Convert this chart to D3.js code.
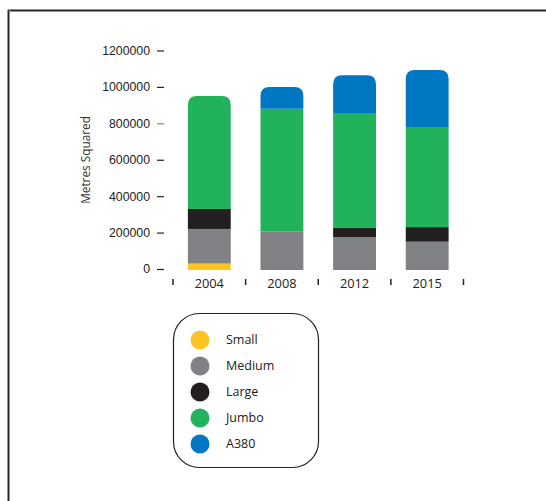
<!DOCTYPE html>
<html><head><meta charset="utf-8">
<script src="https://cdn.jsdelivr.net/npm/d3@7"></script>
<style>body{margin:0;background:#fff;} svg{display:block;font-family:"Open Sans","Noto Sans",sans-serif;}</style>
</head><body>
<svg id="c" width="546" height="501"></svg>
<script>
const years = ["2004","2008","2012","2015"];
const seriesNames = ["Small","Medium","Large","Jumbo","A380"];
const colors = ["#fec325","#808184","#231f20","#22b25b","#0077c3"];
const small  = [30000, 0, 0, 0];
const medium = [190000, 205000, 175000, 150000];
const large  = [110000, 0, 50000, 80000];
const jumbo  = [620000, 675000, 632000, 550000];
const a380   = [0, 120000, 207000, 313000];
const yTicks = [0,200000,400000,600000,800000,1000000,1200000];

const svg = d3.select("#c");
// frame
svg.append("line").attr("x1",8).attr("x2",546).attr("y1",10.5).attr("y2",10.5).attr("stroke","#bbb").attr("stroke-width",3);
svg.append("line").attr("x1",8).attr("x2",546).attr("y1",10.5).attr("y2",10.5).attr("stroke","#222").attr("stroke-width",1.5);
svg.append("line").attr("x1",8.5).attr("x2",8.5).attr("y1",10).attr("y2",501).attr("stroke","#bbb").attr("stroke-width",3);
svg.append("line").attr("x1",8.5).attr("x2",8.5).attr("y1",10).attr("y2",501).attr("stroke","#222").attr("stroke-width",1.5);

const y = d3.scaleLinear().domain([0,1200000]).range([269,50.5]);
const x = d3.scaleBand().domain(years).range([173,463.5]).paddingInner(0.41).paddingOuter(0.205);

const data = years.map((yr,i)=>({year:yr, Small:small[i], Medium:medium[i], Large:large[i], Jumbo:jumbo[i], A380:a380[i]}));
const stack = d3.stack().keys(seriesNames)(data);

// y axis
const yAxis = d3.axisLeft(y).tickValues(yTicks).tickSize(7).tickPadding(7).tickFormat(d3.format("d"));
const ga = svg.append("g").attr("transform","translate(164,0)").call(yAxis);
ga.select(".domain").remove();
ga.selectAll(".tick line").attr("stroke","#222").attr("stroke-width",1.2);
ga.selectAll(".tick line").filter(d=>d===800000).attr("stroke","#888");
ga.selectAll(".tick text").attr("fill","#222").style("font-size","12.3px");

svg.append("text").attr("transform","translate(90,160) rotate(-90)").attr("text-anchor","middle")
  .attr("fill","#333").style("font-size","11.8px").text("Metres Squared");

// x ticks (separators)
const seps = [173].concat(years.map(yr=>x(yr)+x.bandwidth()+x.step()*x.paddingInner()/2));
svg.selectAll("line.sep").data(seps).join("line").attr("class","sep")
  .attr("x1",d=>d).attr("x2",d=>d).attr("y1",279).attr("y2",285).attr("stroke","#222").attr("stroke-width",1.5);
svg.selectAll("text.xl").data(years).join("text").attr("class","xl")
  .attr("x",d=>x(d)+x.bandwidth()/2).attr("y",288).attr("text-anchor","middle")
  .attr("fill","#222").style("font-size","12.8px").text(d=>d);

// bars
const r = 9;
function topPath(x0,w,y0,y1){ // rounded top corners
  const rr = Math.min(r, (y1-y0), w/2);
  return `M${x0},${y1}V${y0+rr}Q${x0},${y0} ${x0+rr},${y0}H${x0+w-rr}Q${x0+w},${y0} ${x0+w},${y0+rr}V${y1}Z`;
}
data.forEach((d,i)=>{
  let topIdx = -1;
  stack.forEach((s,k)=>{ if(s[i][1]-s[i][0]>0) topIdx=k; });
  stack.forEach((s,k)=>{
    const v0=s[i][0], v1=s[i][1];
    if(v1-v0<=0) return;
    const x0=x(d.year), w=x.bandwidth();
    const y0=y(v1), y1=y(v0)+(k===0||v0===0?1:0);
    if(k===topIdx){
      svg.append("path").attr("d",topPath(x0,w,y0,y1)).attr("fill",colors[k]);
    } else {
      svg.append("rect").attr("x",x0).attr("y",y0).attr("width",w).attr("height",y1-y0).attr("fill",colors[k]);
    }
  });
});

// legend
const lg = svg.append("g");
lg.append("rect").attr("x",173.5).attr("y",313.5).attr("width",145).attr("height",154).attr("rx",26).attr("ry",26)
  .attr("fill","none").attr("stroke","#222").attr("stroke-width",1.2);
const ly = d3.scalePoint().domain(seriesNames).range([340,444]);
seriesNames.forEach((n,k)=>{
  lg.append("circle").attr("cx",200).attr("cy",ly(n)).attr("r",9.5).attr("fill",colors[k]);
  lg.append("text").attr("x",226).attr("y",ly(n)).attr("dy","0.35em").attr("fill","#222").style("font-size","12.5px").text(n);
});
</script>
</body></html>
